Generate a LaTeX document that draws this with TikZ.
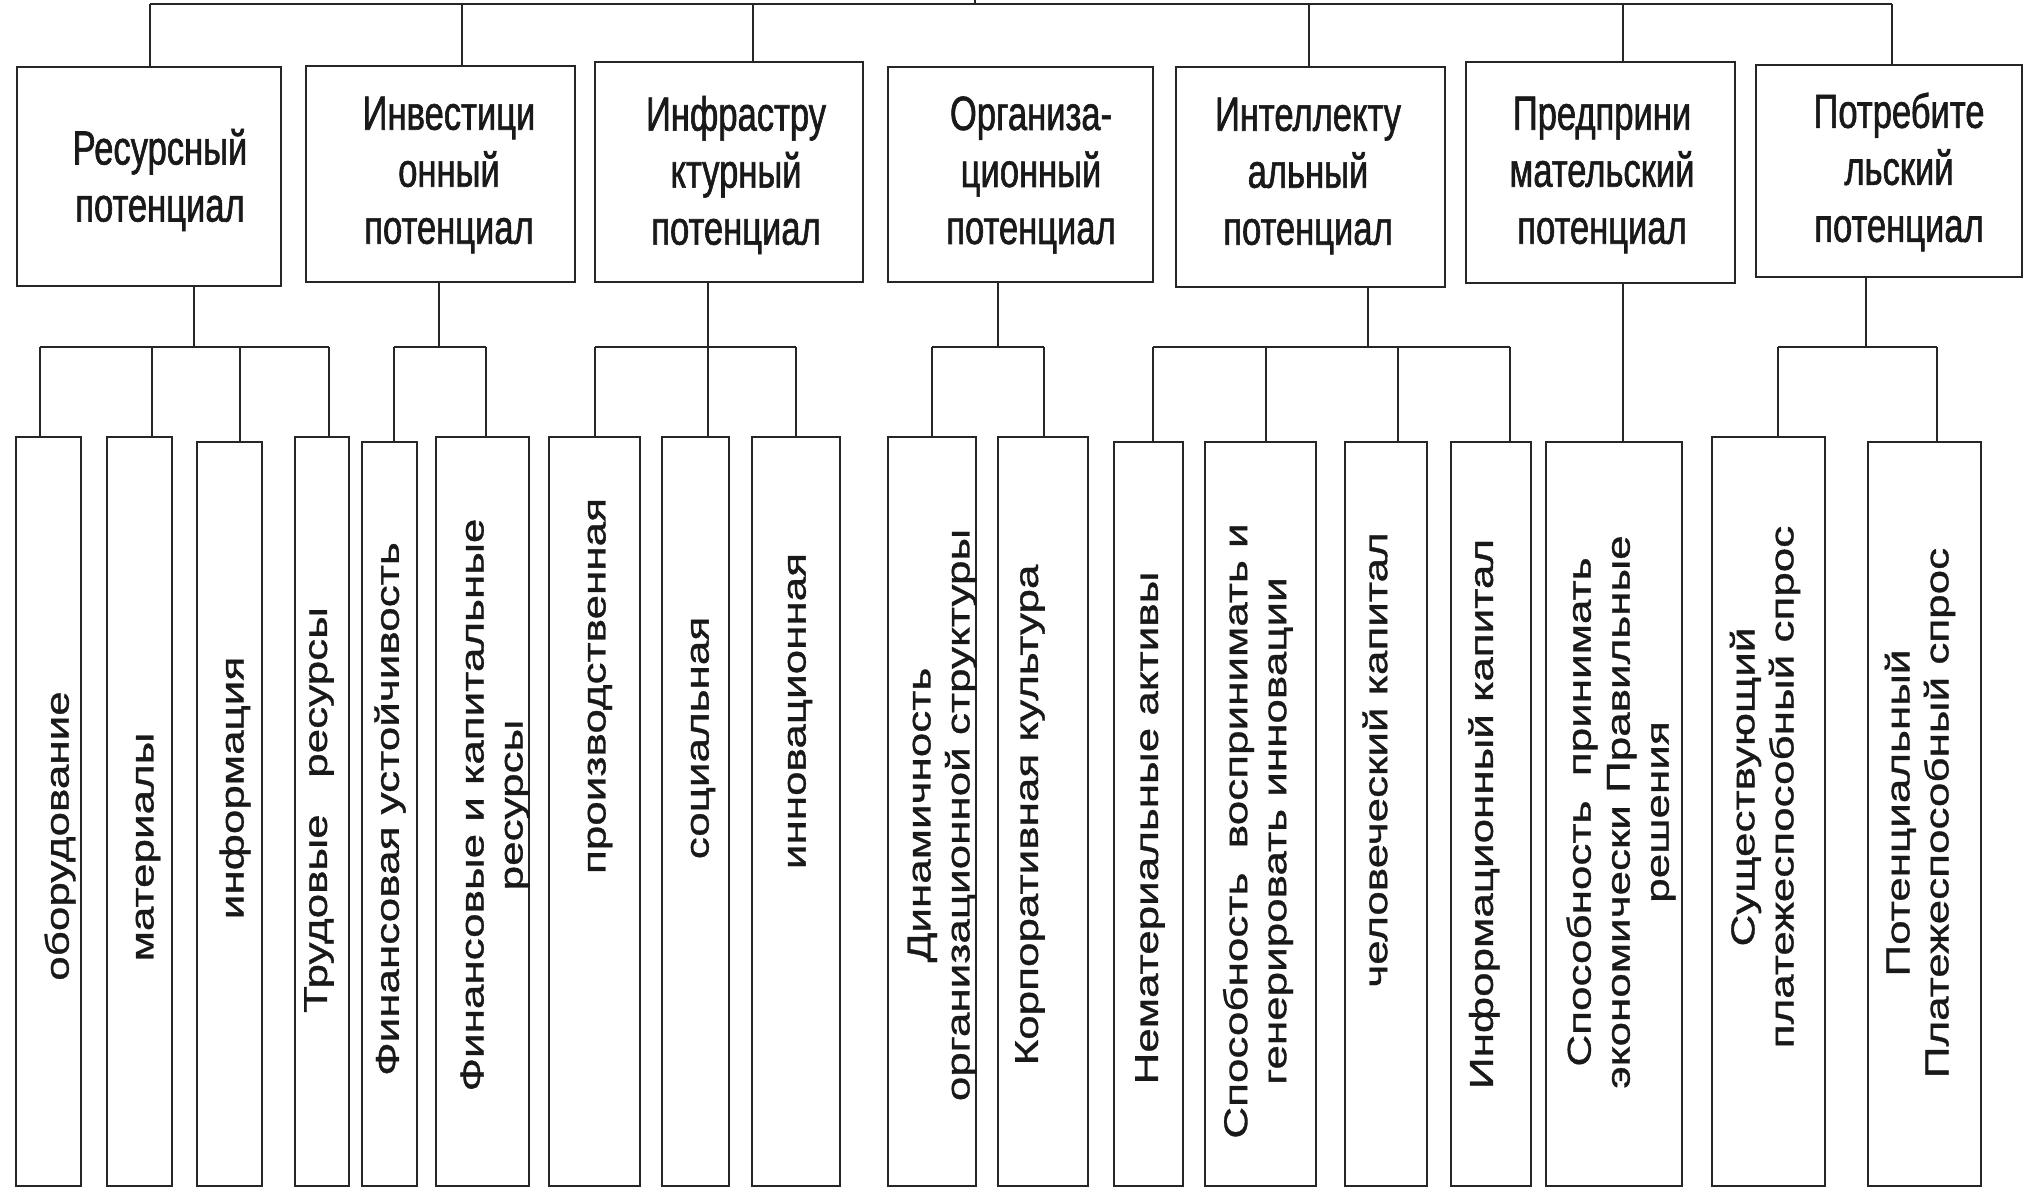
\documentclass[tikz,border=0pt]{standalone}
\usepackage{fontspec}
\setmainfont{Liberation Sans}
\newfontfamily\topfnt{Liberation Sans}[FakeStretch=0.72,FakeBold=1.2]
\newfontfamily\botfnt{Liberation Sans}[FakeStretch=1.3333,FakeBold=1.0]
\tikzset{
  ln/.style={draw=black!85, line width=2.6pt},
  pbox/.style={draw=black!85, line width=2.6pt, rectangle, inner sep=0pt, outer sep=0pt},
  toptxt/.style={font=\topfnt\fontsize{48}{57}\selectfont, align=center, inner sep=0pt, text=black!90},
  bottxt/.style={font=\botfnt\fontsize{33}{39}\selectfont, align=center, inner sep=0pt, rotate=90, text=black!90},
}
\newcommand{\mkbox}[5]{\node[pbox, minimum width={(#4)-(#2)}, minimum height={(#5)-(#3)}] (#1) at ({((#2)+(#4))/2},{-((#3)+(#5))/2}) {};}
\begin{document}
\begin{tikzpicture}[x=1pt,y=1pt]
\fill[white] (0,0) rectangle (2028,-1191);
\useasboundingbox (0,0) rectangle (2028,-1191);

% top-level boxes
\mkbox{P1}{17}{67}{281}{286}
\mkbox{P2}{306}{66}{575}{282}
\mkbox{P3}{595}{62}{863}{282}
\mkbox{P4}{888}{67}{1153}{282}
\mkbox{P5}{1176}{67}{1445}{287}
\mkbox{P6}{1466}{62}{1735}{283}
\mkbox{P7}{1756}{65}{2022}{277}

\node[toptxt] (L1) at (160,-180) {Ресурсный\\потенциал};
\node[toptxt] (L2) at (449,-175) {Инвестици\\онный\\потенциал};
\node[toptxt] (L3) at (736,-175) {Инфрастру\\ктурный\\потенциал};
\node[toptxt] (L4) at (1031,-175) {Организа-\\ционный\\потенциал};
\node[toptxt] (L5) at (1308,-176) {Интеллекту\\альный\\потенциал};
\node[toptxt] (L6) at (1602,-175) {Предприни\\мательский\\потенциал};
\node[toptxt] (L7) at (1899,-172) {Потребите\\льский\\потенциал};

% bottom boxes
\mkbox{C1}{16}{437}{81}{1186}
\mkbox{C2}{107}{437}{172}{1186}
\mkbox{C3}{197}{442}{262}{1186}
\mkbox{C4}{295}{437}{349}{1186}
\mkbox{C5}{362}{442}{417}{1186}
\mkbox{C6}{436}{437}{529}{1186}
\mkbox{C7}{549}{437}{640}{1186}
\mkbox{C8}{662}{437}{729}{1186}
\mkbox{C9}{752}{437}{840}{1186}
\mkbox{C10}{888}{437}{976}{1186}
\mkbox{C11}{998}{437}{1088}{1186}
\mkbox{C12}{1114}{442}{1183}{1186}
\mkbox{C13}{1205}{442}{1316}{1186}
\mkbox{C14}{1345}{442}{1427}{1186}
\mkbox{C15}{1451}{442}{1531}{1186}
\mkbox{C16}{1546}{442}{1682}{1186}
\mkbox{C17}{1712}{437}{1825}{1186}
\mkbox{C18}{1868}{442}{1981}{1186}

\node[bottxt] (B1) at (60,-836) {оборудование};
\node[bottxt] (B2) at (148,-847) {материалы};
\node[bottxt] (B3) at (235,-788) {информация};
\node[bottxt] (B4) at (319,-810) {Трудовые\ \ \ ресурсы};
\node[bottxt] (B5) at (390,-809) {Финансовая устойчивость};
\node[bottxt] (B6) at (495,-805) {Финансовые и капитальные\\ресурсы};
\node[bottxt] (B7) at (600,-686) {производственная};
\node[bottxt] (B8) at (703,-738) {социальная};
\node[bottxt] (B9) at (800,-711) {инновационная};
\node[bottxt] (B10) at (942,-815) {Динамичность\\организационной структуры};
\node[bottxt] (B11) at (1030,-815) {Корпоративная культура};
\node[bottxt] (B12) at (1150,-828) {Нематериальные активы};
\node[bottxt] (B13) at (1258,-831) {Способность\ \ воспринимать и\\генерировать инновации};
\node[bottxt] (B14) at (1375,-760) {человеческий капитал};
\node[bottxt] (B15) at (1484,-814) {Информационный капитал};
\node[bottxt] (B16) at (1621,-812) {Способность\ \ принимать\\экономически Правильные\\решения};
\node[bottxt] (B17) at (1765,-787) {Существующий\\платежеспособный спрос};
\node[bottxt] (B18) at (1920,-813) {Потенциальный\\Платежеспособный спрос};

% top bus
\coordinate (tj1) at (150,-4);
\coordinate (tj2) at (462,-4);
\coordinate (tj3) at (753,-4);
\coordinate (tjc) at (975,-4);
\coordinate (tj5) at (1309,-4);
\coordinate (tj6) at (1623,-4);
\coordinate (tj7) at (1892,-4);
\coordinate (tup) at (975,0);
\draw[ln] (tj1) -- (tj7);
\draw[ln] (tup) -- (tjc);
\draw[ln] (tj1) -- (tj1 |- P1.north);
\draw[ln] (tj2) -- (tj2 |- P2.north);
\draw[ln] (tj3) -- (tj3 |- P3.north);
\draw[ln] (tj5) -- (tj5 |- P5.north);
\draw[ln] (tj6) -- (tj6 |- P6.north);
\draw[ln] (tj7) -- (tj7 |- P7.north);

% group 1
\coordinate (g1) at (194,-347);
\coordinate (g1a) at (40,-347);
\coordinate (g1b) at (152,-347);
\coordinate (g1c) at (240,-347);
\coordinate (g1d) at (329,-347);
\draw[ln] (g1 |- P1.south) -- (g1);
\draw[ln] (g1a) -- (g1d);
\draw[ln] (g1a) -- (g1a |- C1.north);
\draw[ln] (g1b) -- (g1b |- C2.north);
\draw[ln] (g1c) -- (g1c |- C3.north);
\draw[ln] (g1d) -- (g1d |- C4.north);

% group 2
\coordinate (g2) at (439,-347);
\coordinate (g2a) at (394,-347);
\coordinate (g2b) at (486,-347);
\draw[ln] (g2 |- P2.south) -- (g2);
\draw[ln] (g2a) -- (g2b);
\draw[ln] (g2a) -- (g2a |- C5.north);
\draw[ln] (g2b) -- (g2b |- C6.north);

% group 3
\coordinate (g3) at (708,-347);
\coordinate (g3a) at (595,-347);
\coordinate (g3c) at (796,-347);
\draw[ln] (g3 |- P3.south) -- (g3);
\draw[ln] (g3a) -- (g3c);
\draw[ln] (g3a) -- (g3a |- C7.north);
\draw[ln] (g3) -- (g3 |- C8.north);
\draw[ln] (g3c) -- (g3c |- C9.north);

% group 4
\coordinate (g4) at (998,-347);
\coordinate (g4a) at (932,-347);
\coordinate (g4b) at (1044,-347);
\draw[ln] (g4 |- P4.south) -- (g4);
\draw[ln] (g4a) -- (g4b);
\draw[ln] (g4a) -- (g4a |- C10.north);
\draw[ln] (g4b) -- (g4b |- C11.north);

% group 5
\coordinate (g5) at (1368,-347);
\coordinate (g5a) at (1153,-347);
\coordinate (g5b) at (1266,-347);
\coordinate (g5c) at (1398,-347);
\coordinate (g5d) at (1510,-347);
\draw[ln] (g5 |- P5.south) -- (g5);
\draw[ln] (g5a) -- (g5d);
\draw[ln] (g5a) -- (g5a |- C12.north);
\draw[ln] (g5b) -- (g5b |- C13.north);
\draw[ln] (g5c) -- (g5c |- C14.north);
\draw[ln] (g5d) -- (g5d |- C15.north);

% group 6
\coordinate (g6) at (1623,-347);
\draw[ln] (g6 |- P6.south) -- (g6 |- C16.north);

% group 7
\coordinate (g7) at (1866,-347);
\coordinate (g7a) at (1778,-347);
\coordinate (g7b) at (1937,-347);
\draw[ln] (g7 |- P7.south) -- (g7);
\draw[ln] (g7a) -- (g7b);
\draw[ln] (g7a) -- (g7a |- C17.north);
\draw[ln] (g7b) -- (g7b |- C18.north);
\end{tikzpicture}
\end{document}
